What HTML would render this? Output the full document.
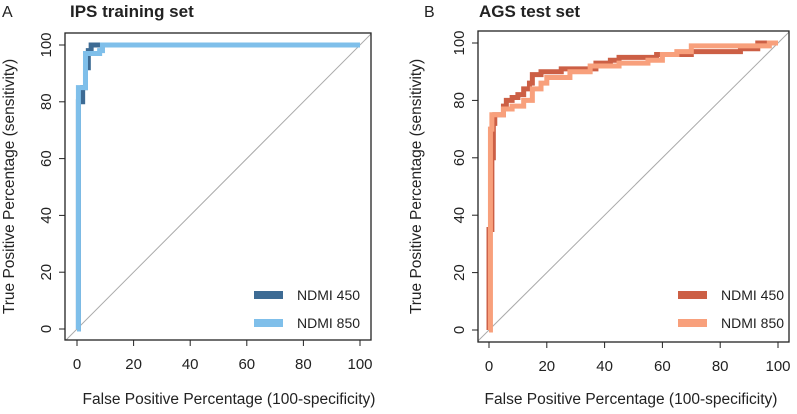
<!DOCTYPE html>
<html><head><meta charset="utf-8"><style>
body{margin:0;background:#fff;}
svg text{font-family:"Liberation Sans",sans-serif;fill:#222;}
</style></head><body>
<svg id="c" width="797" height="409" xmlns="http://www.w3.org/2000/svg"></svg>
<script>
const xTicks=[0,20,40,60,80,100];
const yTicks=[0,20,40,60,80,100];
const seriesNames=["NDMI 450","NDMI 850"];
const aFpr450=[0,0.5,0.5,2,2,3,3,4,4,5,5,100];
const aTpr450=[0,0,80,80,85,85,92,92,98,98,100,100];
const aFpr850=[0,0.5,0.5,3,3,8,8,9,9,100];
const aTpr850=[0,0,85,85,97,97,98,98,100,100];
const bFpr450=[0,0,1,1.5,2,5,6,8,10,12,14,15,18,25,30,37,42,45,55,58,65,70,80,87,93,100];
const bTpr450=[0,35,60,72,75,78,80,81,82,84,86,89,90,91,91,93,94,95,95,96,96,97,97,98,100,100];
const bFpr850=[0,0.5,1,5,8,12,15,18,20,26,28,35,45,55,60,65,70,80,95,97,100];
const bTpr850=[0,70,75,77,78,80,84,86,88,88,90,92,93,94,96,97,99,99,99,100,100];
const NS="http://www.w3.org/2000/svg";
const svg=document.getElementById('c');
function mk(t,a,p){const e=document.createElementNS(NS,t);for(const k in a)e.setAttribute(k,a[k]);(p||svg).appendChild(e);return e;}
function panel(o){
  const g=mk('g',{});
  
  
  const sx=v=>o.x0+(o.x1-o.x0)*v/100, sy=v=>o.y0+(o.y1-o.y0)*v/100;
  const L=mk('text',{x:o.lx,y:17,'font-size':16},g);L.textContent=o.letter;
  
  const T=mk('text',{x:o.tx,y:17,'font-size':17,'font-weight':'bold'},g);T.textContent=o.title;
  
  const cid='clip'+o.letter;
  const cp=mk('clipPath',{id:cid},g);mk('rect',{x:o.bx0,y:o.by0,width:o.bx1-o.bx0,height:o.by1-o.by0},cp);
  const d=mk('line',{x1:sx(-20),y1:sy(-20),x2:sx(120),y2:sy(120),stroke:'#aaa','stroke-width':1,'clip-path':`url(#${cid})`},g);
  
  o.series.forEach((s,i)=>{
    let pts=[];
    s.f.forEach((f,j)=>{
      if(o.step&&j>0){pts.push(sx(f)+','+sy(s.t[j-1]));}
      pts.push(sx(f)+','+sy(s.t[j]));
    });
    const pl=mk('polyline',{points:pts.join(' '),fill:'none',stroke:s.c,'stroke-width':5,'stroke-linejoin':'miter'},g);
    
    
  });
  const box=mk('rect',{x:o.bx0,y:o.by0,width:o.bx1-o.bx0,height:o.by1-o.by0,fill:'none',stroke:'#222','stroke-width':1.3},g);
  
  xTicks.forEach(v=>{
    mk('line',{x1:sx(v),x2:sx(v),y1:o.by1,y2:o.by1+6,stroke:'#222'},g);
    const t=mk('text',{x:sx(v),y:o.by1+29,'font-size':15,'text-anchor':'middle'},g);t.textContent=v;
    
  });
  yTicks.forEach(v=>{
    mk('line',{x1:o.bx0-6,x2:o.bx0,y1:sy(v),y2:sy(v),stroke:'#222'},g);
    const t=mk('text',{x:0,y:0,'font-size':15,'text-anchor':'middle',transform:`translate(${o.bx0-14},${sy(v)}) rotate(-90)`},g);t.textContent=v;
    
  });
  const xt=mk('text',{x:o.xtx,y:404,'font-size':15.5,'text-anchor':'middle'},g);xt.textContent='False Positive Percentage (100-specificity)';
  
  const yt=mk('text',{x:0,y:0,'font-size':15.5,'text-anchor':'middle',transform:`translate(${o.ytx},${(o.by0+o.by1)/2}) rotate(-90)`},g);yt.textContent='True Positive Percentage (sensitivity)';
  
  o.series.forEach((s,i)=>{
    const y=295+i*28;
    const sw=mk('rect',{x:o.legx,y:y-4,width:29,height:8,fill:s.c},g);
    
    const lt=mk('text',{x:o.legx+43,y:y+5,'font-size':14},g);lt.textContent=seriesNames[i];
    
  });
}
panel({id:'panel-a-ips-training',letter:'A',lx:2,tx:70,title:'IPS training set',x0:77,x1:360,y0:329,y1:45,bx0:65,bx1:371,by0:33,by1:340,xtx:229,ytx:14,legx:254,step:false,
  series:[{f:aFpr450,t:aTpr450,c:'#3d6b94'},{f:aFpr850,t:aTpr850,c:'#7fbfea'}]});
panel({id:'panel-b-ags-test',letter:'B',lx:424,tx:479,title:'AGS test set',x0:489,x1:778,y0:330,y1:43,bx0:478,bx1:789,by0:31,by1:342,xtx:631,ytx:421,legx:678,step:true,
  series:[{f:bFpr450,t:bTpr450,c:'#cc5f45'},{f:bFpr850,t:bTpr850,c:'#f8a07c'}]});
</script>
</body></html>
